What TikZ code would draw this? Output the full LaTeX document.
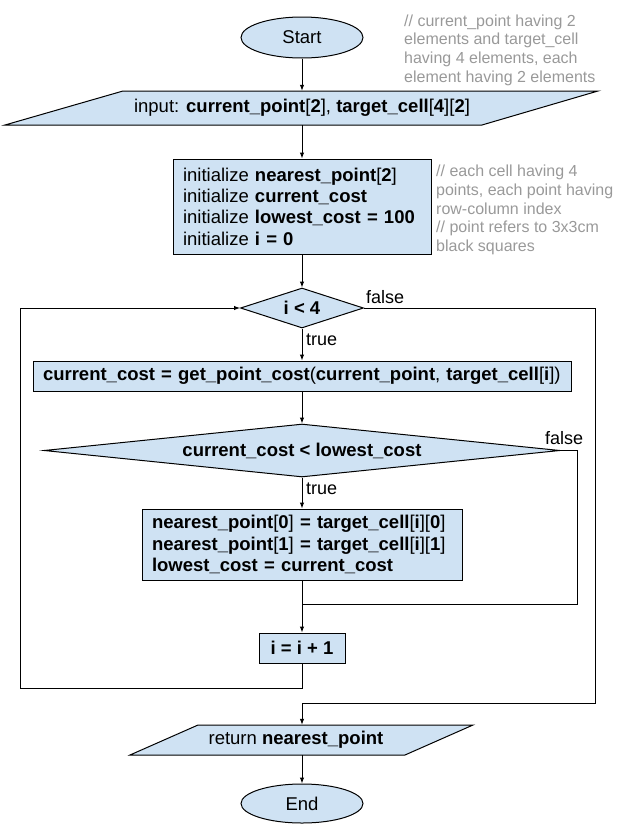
\documentclass[tikz,border=0pt]{standalone}
\usepackage{fontspec}
\setmainfont{Liberation Sans}
\usetikzlibrary{shapes.geometric,arrows.meta}
\definecolor{boxblue}{HTML}{CFE2F3}
\definecolor{notegray}{HTML}{999999}
\begin{document}
\begin{tikzpicture}[x=1pt,y=-1pt,
  every node/.style={font=\fontsize{18.5}{21.3}\selectfont},
  shapebox/.style={draw=black, fill=boxblue, line width=1pt},
  terminal/.style={ellipse, shapebox, minimum width=122pt, minimum height=41pt, inner sep=0pt},
  iotext/.style={inner sep=0pt, minimum height=34pt},
  procbox/.style={rectangle, shapebox, align=left, inner xsep=10pt, inner ysep=0pt},
  decision/.style={diamond, shapebox, inner sep=0pt},
  note/.style={font=\fontsize{16}{18.7}\selectfont, text=notegray, align=left, inner sep=0pt, anchor=north west},
  lbl/.style={font=\fontsize{18}{21}\selectfont, inner sep=0pt, anchor=west},
  conn/.style={line width=1pt},
  arrow/.style={line width=1pt, -{Latex[length=6pt,width=4.5pt]}}
]
\useasboundingbox (0,0) rectangle (623,838);

% Start
\node[terminal] (start) at (302,37.5) {Start};

% input parallelogram
\path[shapebox] (123,91) -- (598,91) -- (482,125) -- (5,125) -- cycle;
\node[iotext] (input) at (302,108) {input: \textbf{current\_point}[\textbf{2}], \textbf{target\_cell}[\textbf{4}][\textbf{2}]};

% comment 1
\node[note] (note1) at (404,14.5) {// current\_point having 2\\elements and target\_cell\\having 4 elements, each\\element having 2 elements};

% init box
\node[procbox, text width=238pt, minimum height=95pt] (init) at (302,206.5)
  {initialize \textbf{nearest\_point}[\textbf{2}]\\initialize \textbf{current\_cost}\\initialize \textbf{lowest\_cost = 100}\\initialize \textbf{i = 0}};

% comment 2
\node[note] (note2) at (436,165) {// each cell having 4\\points, each point having\\row-column index\\// point refers to 3x3cm\\black squares};

% decision 1
\node[decision, aspect=3, minimum width=123pt, minimum height=40pt] (d1) at (302,308) {\textbf{i < 4}};
\node[lbl] (false1) at (366,297) {false};
\node[lbl] (true1) at (306,340) {true};

% get cost box
\node[procbox, text width=518pt, minimum height=30pt] (get) at (302,376)
  {\textbf{current\_cost = get\_point\_cost}(\textbf{current\_point}, \textbf{target\_cell}[\textbf{i}])};

% decision 2
\node[decision, aspect=10, minimum width=516pt, minimum height=53pt] (d2) at (302,450.5) {\textbf{current\_cost < lowest\_cost}};
\node[lbl] (false2) at (545,438) {false};
\node[lbl] (true2) at (306,489) {true};

% update box
\node[procbox, text width=300pt, minimum height=71pt] (upd) at (302,544.5)
  {\textbf{nearest\_point}[\textbf{0}] \textbf{= target\_cell}[\textbf{i}][\textbf{0}]\\\textbf{nearest\_point}[\textbf{1}] \textbf{= target\_cell}[\textbf{i}][\textbf{1}]\\\textbf{lowest\_cost = current\_cost}};

% increment box
\node[procbox, align=center, minimum width=86pt, minimum height=30pt] (inc) at (302,648) {\textbf{i = i + 1}};

% return parallelogram
\path[shapebox] (198,725) -- (473,725) -- (405,755) -- (130,755) -- cycle;
\node[inner sep=0pt, minimum height=30pt] (ret) at (302,740) {\hspace*{-12pt}return \textbf{nearest\_point}};

% End
\node[terminal, minimum height=39pt] (end) at (302,803.5) {End};

% connectors
\coordinate (join) at (302,604);
\draw[arrow] (start.south) -- (input.north);
\draw[arrow] (input.south) -- (init.north);
\draw[arrow] (init.south) -- (d1.north);
\draw[arrow] (d1.south) -- (get.north);
\draw[arrow] (get.south) -- (d2.north);
\draw[arrow] (d2.south) -- (upd.north);
\draw[conn] (upd.south) -- (join);
\draw[arrow] (join) -- (inc.north);
\draw[conn] (d2.east) -- ++(17,0) |- (join);
\draw[arrow] (inc.south) |- (20,688) |- (d1.west);
\draw[arrow] (d1.east) -| (595,703) -| (ret.north);
\draw[arrow] (ret.south) -- (end.north);
\end{tikzpicture}
\end{document}
